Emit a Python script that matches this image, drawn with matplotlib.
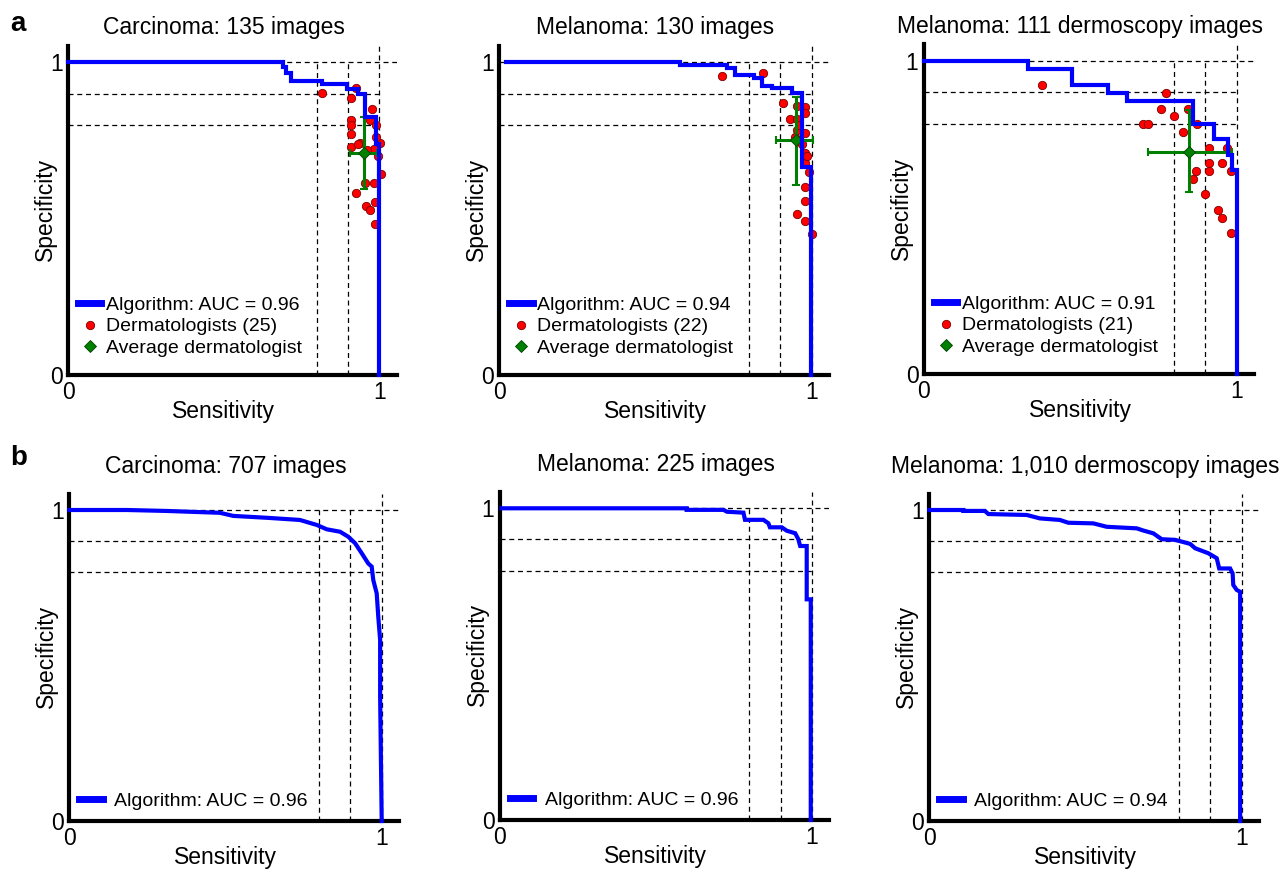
import matplotlib
matplotlib.use("Agg")
import matplotlib.pyplot as plt
from matplotlib.lines import Line2D

plt.rcParams["font.family"] = ["Liberation Sans", "DejaVu Sans"]

# ---------------- data ----------------
titles = ["Carcinoma: 135 images", "Melanoma: 130 images", "Melanoma: 111 dermoscopy images",
          "Carcinoma: 707 images", "Melanoma: 225 images", "Melanoma: 1,010 dermoscopy images"]
auc_labels = ["Algorithm: AUC = 0.96", "Algorithm: AUC = 0.94", "Algorithm: AUC = 0.91",
              "Algorithm: AUC = 0.96", "Algorithm: AUC = 0.96", "Algorithm: AUC = 0.94"]
derm_labels = ["Dermatologists (25)", "Dermatologists (22)", "Dermatologists (21)"]

# ROC curves (sensitivity, specificity)
a1_sens = [0.0, 0.69, 0.69, 0.70, 0.70, 0.715, 0.715, 0.815, 0.815, 0.895, 0.895, 0.93, 0.93, 0.955, 0.955, 0.99, 0.99, 1.0, 1.0]
a1_spec = [1.0, 1.0, 0.985, 0.985, 0.965, 0.965, 0.94, 0.94, 0.93, 0.93, 0.915, 0.915, 0.90, 0.90, 0.826, 0.826, 0.74, 0.74, 0.0]

a2_sens = [0.02, 0.58, 0.58, 0.728, 0.728, 0.755, 0.755, 0.814, 0.814, 0.84, 0.84, 0.872, 0.872, 0.936, 0.936, 0.968, 0.968, 0.997, 0.997]
a2_spec = [1.0, 1.0, 0.991, 0.991, 0.981, 0.981, 0.959, 0.959, 0.949, 0.949, 0.925, 0.925, 0.917, 0.917, 0.901, 0.901, 0.666, 0.666, 0.0]

a3_sens = [0.0, 0.333, 0.333, 0.474, 0.474, 0.589, 0.589, 0.648, 0.648, 0.86, 0.86, 0.928, 0.928, 0.973, 0.973, 0.984, 0.984, 1.0, 1.0]
a3_spec = [1.0, 1.0, 0.974, 0.974, 0.923, 0.923, 0.899, 0.899, 0.873, 0.873, 0.799, 0.799, 0.75, 0.75, 0.70, 0.70, 0.652, 0.652, 0.0]

b1_sens = [0.0, 0.184, 0.31, 0.482, 0.525, 0.632, 0.738, 0.792, 0.824, 0.867, 0.893, 0.915, 0.936, 0.957, 0.968, 0.973, 0.984, 0.989, 0.995, 0.995, 1.0]
b1_spec = [1.0, 1.0, 0.997, 0.991, 0.981, 0.975, 0.968, 0.952, 0.938, 0.930, 0.914, 0.893, 0.861, 0.828, 0.818, 0.775, 0.732, 0.657, 0.582, 0.40, 0.0]

b2_sens = [0.005, 0.599, 0.599, 0.717, 0.728, 0.781, 0.786, 0.845, 0.861, 0.866, 0.904, 0.92, 0.947, 0.957, 0.963, 0.984, 0.984, 0.997, 0.997]
b2_spec = [1.0, 1.0, 0.995, 0.995, 0.989, 0.986, 0.963, 0.963, 0.952, 0.939, 0.939, 0.928, 0.920, 0.901, 0.879, 0.879, 0.708, 0.708, 0.0]

b3_sens = [0.0, 0.109, 0.109, 0.178, 0.189, 0.312, 0.354, 0.418, 0.445, 0.525, 0.568, 0.664, 0.685, 0.717, 0.744, 0.787, 0.835, 0.851, 0.893, 0.920, 0.928, 0.963, 0.971, 0.973, 0.984, 0.995, 0.995]
b3_spec = [1.0, 1.0, 0.997, 0.997, 0.987, 0.984, 0.973, 0.968, 0.959, 0.957, 0.946, 0.941, 0.934, 0.925, 0.906, 0.904, 0.891, 0.877, 0.861, 0.845, 0.812, 0.812, 0.796, 0.759, 0.743, 0.737, 0.0]

# Dermatologists (sensitivity, specificity)
a1_derm_sens = [0.815, 0.925, 0.908, 0.908, 0.908, 0.908, 0.908, 0.970, 0.938, 1.002, 0.984, 0.988, 1.004, 0.954, 0.984,
                0.925, 0.956, 0.970, 0.986, 0.986, 0.99, 0.975, 0.96, 0.995, 0.93]
a1_derm_spec = [0.901, 0.917, 0.885, 0.815, 0.800, 0.771, 0.728, 0.815, 0.741, 0.743, 0.724, 0.762, 0.642, 0.613, 0.613,
                0.583, 0.541, 0.528, 0.554, 0.483, 0.80, 0.85, 0.72, 0.70, 0.74]

a2_derm_sens = [0.714, 0.845, 0.909, 0.952, 0.979, 0.979, 0.931, 0.952, 0.952, 0.979, 0.979, 0.979, 0.979, 0.979, 0.952,
                0.979, 1.0, 0.96, 0.97, 0.945, 0.985, 0.99]
a2_derm_spec = [0.956, 0.967, 0.871, 0.860, 0.858, 0.837, 0.818, 0.818, 0.784, 0.773, 0.709, 0.677, 0.600, 0.557, 0.515,
                0.493, 0.450, 0.80, 0.74, 0.76, 0.70, 0.65]

a3_derm_sens = [0.378, 0.773, 0.758, 0.843, 0.800, 0.701, 0.715, 0.872, 0.827, 0.912, 0.968, 0.912, 0.954, 0.912, 0.870,
                0.859, 0.982, 0.899, 0.941, 0.954, 0.982]
a3_derm_spec = [0.923, 0.899, 0.848, 0.848, 0.825, 0.799, 0.799, 0.799, 0.774, 0.723, 0.721, 0.673, 0.673, 0.649, 0.649,
                0.623, 0.649, 0.574, 0.524, 0.499, 0.449]

# Average dermatologist: centre and error bar extents
avg_sens = [0.951, 0.949, 0.848]
avg_spec = [0.711, 0.752, 0.710]
avg_sens_lo = [0.906, 0.886, 0.715]
avg_sens_hi = [0.992, 1.005, 0.984]
avg_spec_lo = [0.595, 0.608, 0.582]
avg_spec_hi = [0.826, 0.890, 0.843]

# ---------------- figure ----------------
W, H = 1287, 880
fig = plt.figure(figsize=(W / 100, H / 100), dpi=100)
XMAX, YMAX = 1.056, 1.053
BLUE = "#0000ff"
GREEN = "#008000"
FS = 16.5


def make_axes(x0, x1, y0, y1):
    sx = x1 - x0
    sy = y0 - y1
    ax = fig.add_axes([x0 / W, 1 - y0 / H, sx * XMAX / W, sy * YMAX / H])
    ax.set_xlim(0, XMAX)
    ax.set_ylim(0, YMAX)
    for s in ["top", "right"]:
        ax.spines[s].set_visible(False)
    for s in ["left", "bottom"]:
        ax.spines[s].set_linewidth(3.0)
        ax.spines[s].set_color("black")
    ax.set_xticks([0, 1])
    ax.set_xticklabels(["0", "1"])
    ax.set_yticks([0, 1])
    ax.set_yticklabels(["0", "1"])
    ax.tick_params(length=0, labelsize=16.5, pad=4)
    ax.set_xlabel("Sensitivity", fontsize=FS)
    ax.set_ylabel("Specificity", fontsize=FS)
    ax.xaxis.set_label_coords(0.5 / XMAX, -0.075)
    ax.yaxis.set_label_coords(-0.034, 0.53 / YMAX)
    ls = (0, (4, 3))
    kw = dict(color="black", lw=0.9, linestyle=ls, zorder=1)
    ax.plot([0.8, 0.8], [0, 1], **kw)
    ax.plot([0.9, 0.9], [0, 1], **kw)
    ax.plot([1.0, 1.0], [0, YMAX], **kw)
    ax.plot([0, 1], [0.9, 0.9], **kw)
    ax.plot([0, 1], [0.8, 0.8], **kw)
    ax.plot([0, XMAX], [1.0, 1.0], **kw)
    return ax


pix = [
    (68.3, 379.3, 375, 62.3),
    (499.3, 811.7, 375, 62.3),
    (924, 1236.7, 374, 61),
    (69.3, 381.7, 821, 510),
    (500, 811.7, 820, 508.3),
    (929.3, 1241.7, 821, 510),
]
curves = [(a1_sens, a1_spec), (a2_sens, a2_spec), (a3_sens, a3_spec),
          (b1_sens, b1_spec), (b2_sens, b2_spec), (b3_sens, b3_spec)]
derms = [(a1_derm_sens, a1_derm_spec), (a2_derm_sens, a2_derm_spec), (a3_derm_sens, a3_derm_spec)]

for i in range(6):
    ax = make_axes(*pix[i])
    ax.set_title(titles[i], fontsize=FS, x=0.5 / XMAX, pad=8.5 if i < 3 else 15)
    sens, spec = curves[i]
    ax.plot(sens, spec, color=BLUE, lw=3.0, zorder=5, solid_joinstyle="miter", clip_on=False)
    handles = [Line2D([], [], color=BLUE, lw=5)]
    labels = [auc_labels[i]]
    if i < 3:
        ds, dp = derms[i]
        ax.plot(ds, dp, "o", color="#ff0000", markeredgecolor="#7a0000", markeredgewidth=0.6,
                markersize=6, zorder=3, clip_on=False)
        ax.errorbar([avg_sens[i]], [avg_spec[i]],
                    xerr=[[avg_sens[i] - avg_sens_lo[i]], [avg_sens_hi[i] - avg_sens[i]]],
                    yerr=[[avg_spec[i] - avg_spec_lo[i]], [avg_spec_hi[i] - avg_spec[i]]],
                    fmt="none", ecolor=GREEN, elinewidth=2.2, capsize=3, capthick=1.5, zorder=4)
        ax.plot([avg_sens[i]], [avg_spec[i]], "D", color=GREEN, markeredgecolor="#004000",
                markeredgewidth=0.6, markersize=6, zorder=4.5)
        handles += [Line2D([], [], ls="none", marker="o", color="#ff0000", markeredgecolor="#7a0000",
                           markeredgewidth=0.6, markersize=6),
                    Line2D([], [], ls="none", marker="D", color=GREEN, markeredgecolor="#004000",
                           markeredgewidth=0.6, markersize=6)]
        labels += [derm_labels[i], "Average dermatologist"]
        ax.legend(handles, labels, loc="lower left", bbox_to_anchor=(0.03, 0.055),
                  frameon=False, fontsize=14, handlelength=1.2, handletextpad=0.25,
                  labelspacing=0.2, borderpad=0, borderaxespad=0)
    else:
        ax.legend(handles, labels, loc="lower left", bbox_to_anchor=(0.03, 0.033),
                  frameon=False, fontsize=14, handlelength=1.2, handletextpad=0.6,
                  labelspacing=0.1, borderpad=0, borderaxespad=0)

fig.text(10 / W, 1 - 24 / H, "a", fontsize=20, fontweight="bold", va="center", ha="left")
fig.text(10 / W, 1 - 458 / H, "b", fontsize=20, fontweight="bold", va="center", ha="left")

fig.savefig("out.png", dpi=100)
